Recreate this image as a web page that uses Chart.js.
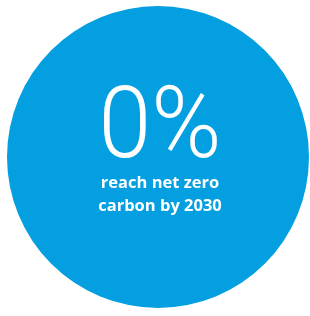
<!DOCTYPE html>
<html>
<head>
<meta charset="utf-8">
<script src="https://cdn.jsdelivr.net/npm/chart.js@4"></script>
<style>
  html, body { margin: 0; padding: 0; background: #fff; }
  canvas { display: block; }
</style>
</head>
<body>
<canvas id="chart" width="310" height="316"></canvas>
<script>
// share of organisations that reach net zero, the rest fills the circle
var labels = ['reach net zero carbon by 2030', 'not yet'];
var values = [0, 100];
var sliceColors = ['#039fe1', '#039fe1'];
var captionLines = ['reach net zero', 'carbon by 2030'];

// text in the middle of the circle
var centerText = {
    id: 'centerText',
    afterDraw: function (chart) {
        var ctx = chart.ctx;
        var arc = chart.getDatasetMeta(0).data[0];
        var cx = arc.x, cy = arc.y;
        ctx.save();
        ctx.fillStyle = '#ffffff';
        ctx.textAlign = 'center';
        ctx.textBaseline = 'alphabetic';

        // big percentage, narrowed a bit
        ctx.save();
        ctx.translate(cx + 2, cy);
        ctx.scale(0.94, 1);
        ctx.font = '300 101px Roboto';
        ctx.fillText(values[0] + '%', 0, 0);
        ctx.restore();

        ctx.font = 'bold 16.5px "Open Sans"';
        ctx.fillText(captionLines[0], cx + 2, cy + 31);
        ctx.fillText(captionLines[1], cx + 2, cy + 54);
        ctx.restore();
    }
};

new Chart(document.getElementById('chart'), {
    type: 'pie',
    data: {
        labels: labels,
        datasets: [{
            data: values,
            backgroundColor: sliceColors,
            borderWidth: 0
        }]
    },
    options: {
        responsive: false,
        animation: false,
        layout: { padding: { left: 7, right: 1, top: 6, bottom: 8 } },
        plugins: {
            legend: { display: false },
            tooltip: { enabled: false }
        }
    },
    plugins: [centerText]
});
</script>
</body>
</html>
